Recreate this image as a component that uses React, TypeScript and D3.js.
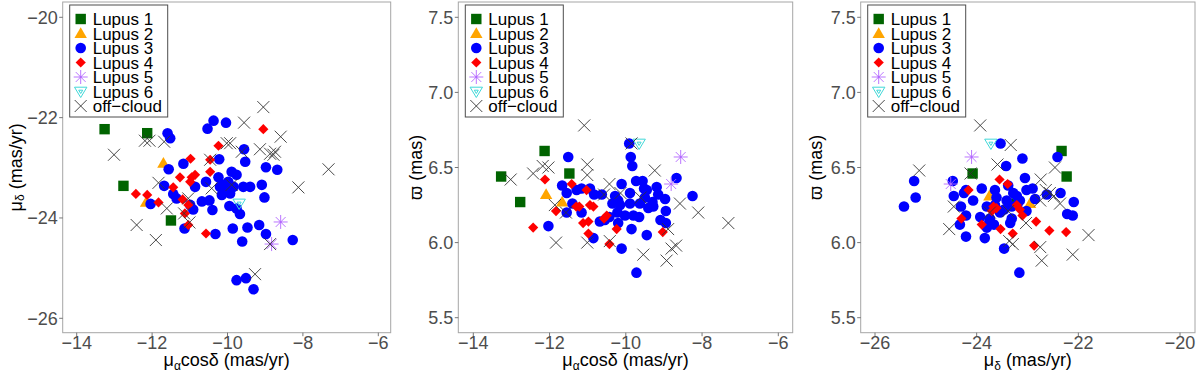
import React from 'react';
import * as d3 from 'd3';

type Pt = [number, number];

const groupNames = ['Lupus 1', 'Lupus 2', 'Lupus 3', 'Lupus 4', 'Lupus 5', 'Lupus 6', 'off\u2212cloud'];
const groupKinds = ['square', 'triangle', 'circle', 'diamond', 'asterisk', 'invtri', 'cross'];
const groupColors = ['#006400', '#FFA500', '#0000FF', '#FF0000', '#B266FF', '#40D8D8', '#333333'];

// Panel 1: pmRA cos(dec) vs pmDec
const p1Lupus1: Pt[] = [[-13.26, -22.23], [-12.13, -22.31], [-12.76, -23.36], [-11.5, -24.05]];
const p1Lupus2: Pt[] = [[-11.7, -22.91], [-12.16, -23.69]];
const p1Lupus3: Pt[] = [
  [-10.37, -22.06], [-10.04, -22.1], [-10.53, -22.22], [-11.59, -22.31], [-11.52, -22.41], [-9.56, -22.63],
  [-10.22, -22.83], [-9.53, -22.88], [-11.17, -22.92], [-8.98, -22.99], [-8.68, -23.04], [-11.56, -23.03],
  [-9.89, -23.08], [-9.76, -23.14], [-10.24, -23.19], [-9.98, -23.28], [-10.2, -23.38], [-11.68, -23.36],
  [-10.86, -23.38], [-10.57, -23.28], [-10.11, -23.34], [-10.07, -23.44], [-10.15, -23.54], [-9.58, -23.38],
  [-9.4, -23.38], [-9.09, -23.34], [-11.44, -23.52], [-11.35, -23.61], [-12.04, -23.72], [-10.99, -23.74],
  [-10.91, -23.83], [-10.68, -23.67], [-10.4, -23.84], [-9.93, -23.51], [-9.95, -23.76], [-9.76, -23.81],
  [-9.67, -23.92], [-9.02, -23.59], [-11.14, -24.21], [-10.32, -24.32], [-9.86, -24.21], [-9.47, -24.19],
  [-9.16, -24.14], [-8.98, -24.32], [-9.61, -24.47], [-8.27, -24.44], [-9.76, -25.24], [-9.51, -25.2],
  [-9.31, -25.42], [-9.84, -23.38], [-10.48, -23.65],
];
const p1Lupus4: Pt[] = [
  [-9.05, -22.23], [-10.24, -22.56], [-10.98, -22.82], [-10.46, -22.84], [-10.46, -23.08], [-10.86, -23.14],
  [-10.95, -23.19], [-11.26, -23.19], [-10.99, -23.28], [-11.44, -23.39], [-12.43, -23.52], [-12.13, -23.54],
  [-11.83, -23.69], [-11.19, -23.63], [-11.04, -23.74], [-11.13, -23.91], [-11.04, -24.14], [-10.57, -24.31],
];
const p1Lupus5: Pt[] = [[-8.59, -24.08], [-8.83, -24.52]];
const p1Lupus6: Pt[] = [[-9.69, -23.71]];
const p1Off: Pt[] = [
  [-9.05, -21.79], [-9.56, -22.1], [-8.59, -22.38], [-12.19, -22.46], [-12.07, -22.46], [-11.68, -22.48],
  [-10.02, -22.51], [-9.93, -22.51], [-13.01, -22.74], [-9.14, -22.63], [-8.87, -22.72], [-8.78, -22.74],
  [-8.74, -22.68], [-9.62, -22.68], [-10.46, -22.84], [-7.32, -23.03], [-11.83, -23.3], [-8.12, -23.39],
  [-9.89, -23.34], [-10.42, -23.41], [-11.04, -23.61], [-11.61, -23.81], [-12.41, -24.14], [-11.9, -24.44],
  [-11.01, -24.09], [-9.27, -25.12], [-8.87, -24.52], [-11.15, -23.91],
];

// Panel 2: pmRA cos(dec) vs parallax
const p2Lupus1: Pt[] = [[-12.13, 6.61], [-13.27, 6.44], [-11.48, 6.46], [-12.77, 6.27]];
const p2Lupus2: Pt[] = [[-12.09, 6.32], [-11.67, 6.27]];
const p2Lupus3: Pt[] = [
  [-11.51, 6.57], [-9.91, 6.66], [-9.87, 6.57], [-9.83, 6.51], [-11.67, 6.38], [-11.55, 6.33], [-11.4, 6.26],
  [-11.55, 6.2], [-11.16, 6.2], [-11.29, 6.35], [-10.94, 6.36], [-10.83, 6.32], [-10.63, 6.32], [-10.11, 6.39],
  [-10.28, 6.31], [-10.2, 6.28], [-10.15, 6.25], [-10.35, 6.26], [-9.89, 6.33], [-9.73, 6.41], [-9.56, 6.41],
  [-9.52, 6.36], [-9.5, 6.3], [-9.3, 6.27], [-9.28, 6.24], [-9.19, 6.37], [-9.15, 6.32], [-8.97, 6.29],
  [-8.67, 6.43], [-8.25, 6.31], [-8.95, 6.21], [-9.09, 6.15], [-8.95, 6.13], [-9.41, 6.23], [-9.8, 6.18],
  [-9.65, 6.17], [-10.02, 6.18], [-9.89, 6.26], [-10.22, 6.2], [-10.55, 6.15], [-10.68, 6.14], [-10.43, 6.17],
  [-10.2, 6.13], [-10.85, 6.03], [-10.11, 5.96], [-9.85, 6.09], [-9.45, 6.05], [-9.72, 5.8], [-12.03, 6.11],
  [-11.16, 6.36], [-9.63, 6.26], [-9.45, 6.35],
];
const p2Lupus4: Pt[] = [
  [-12.12, 6.42], [-11.42, 6.39], [-11.03, 6.35], [-11.83, 6.21], [-12.43, 6.1], [-11.22, 6.24], [-10.94, 6.25],
  [-10.85, 6.24], [-10.5, 6.18], [-10.57, 6.16], [-11.12, 6.13], [-10.98, 6.14], [-10.98, 6.06], [-10.24, 6.09],
  [-10.43, 5.99], [-9.03, 6.07], [-11.3, 6.24],
];
const p2Lupus5: Pt[] = [[-8.56, 6.57], [-8.81, 6.39]];
const p2Lupus6: Pt[] = [[-9.65, 6.66]];
const p2Off: Pt[] = [
  [-11.09, 6.78], [-9.85, 6.66], [-12.18, 6.51], [-12.03, 6.5], [-12.43, 6.46], [-13.02, 6.42], [-11.01, 6.52],
  [-11.01, 6.45], [-9.24, 6.48], [-10.43, 6.39], [-10.57, 6.32], [-11.86, 6.25], [-11.57, 6.2], [-8.58, 6.26],
  [-8.1, 6.2], [-7.31, 6.13], [-11.83, 6.0], [-11.01, 6.0], [-10.42, 6.01], [-9.54, 5.92], [-8.89, 6.09],
  [-8.68, 5.98], [-8.8, 5.96], [-8.93, 5.88], [-9.61, 6.3], [-10.14, 6.33],
];

// Panel 3: pmDec vs parallax
const p3Lupus1: Pt[] = [[-22.33, 6.61], [-22.23, 6.44], [-24.08, 6.46], [-23.26, 6.26]];
const p3Lupus2: Pt[] = [[-23.75, 6.31], [-22.95, 6.26]];
const p3Lupus3: Pt[] = [
  [-23.53, 6.66], [-23.1, 6.56], [-23.42, 6.51], [-23.05, 6.43], [-22.9, 6.36], [-22.62, 6.32], [-22.35, 6.33],
  [-22.09, 6.27], [-25.23, 6.41], [-25.2, 6.3], [-25.43, 6.24], [-24.47, 6.41], [-24.21, 6.35], [-24.25, 6.33],
  [-24.45, 6.31], [-24.31, 6.24], [-24.21, 6.18], [-24.33, 6.12], [-24.21, 6.04], [-23.84, 6.03], [-23.9, 6.36],
  [-23.64, 6.35], [-23.61, 6.3], [-23.38, 6.38], [-23.28, 6.33], [-23.21, 6.31], [-23.41, 6.28], [-23.31, 6.24],
  [-23.2, 6.25], [-23.02, 6.21], [-22.85, 6.29], [-23.8, 6.24], [-23.93, 6.17], [-23.74, 6.16], [-23.66, 6.12],
  [-23.8, 6.1], [-23.34, 6.13], [-23.31, 6.16], [-23.46, 5.96], [-23.16, 5.8], [-22.22, 6.19], [-22.11, 6.18],
  [-23.02, 6.35], [-23.64, 6.25], [-23.75, 6.14], [-22.41, 6.57], [-23.54, 6.2], [-23.46, 6.22], [-23.15, 6.28],
  [-24.07, 6.28],
];
const p3Lupus4: Pt[] = [
  [-23.55, 6.42], [-23.39, 6.39], [-24.16, 6.35], [-23.67, 6.24], [-23.7, 6.21], [-23.21, 6.25], [-23.15, 6.22],
  [-23.1, 6.18], [-24.3, 6.16], [-23.9, 6.12], [-23.53, 6.09], [-23.29, 6.06], [-22.83, 6.14], [-22.57, 6.08],
  [-22.24, 6.07], [-22.87, 5.98], [-23.61, 6.23],
];
const p3Lupus5: Pt[] = [[-24.1, 6.57], [-24.51, 6.39]];
const p3Lupus6: Pt[] = [[-23.72, 6.66]];
const p3Off: Pt[] = [
  [-23.93, 6.78], [-23.33, 6.65], [-23.59, 6.52], [-25.13, 6.48], [-24.12, 6.46], [-22.46, 6.5], [-22.74, 6.42],
  [-22.64, 6.35], [-22.56, 6.33], [-22.48, 6.31], [-22.36, 6.26], [-24.54, 6.09], [-24.45, 6.24], [-23.38, 6.21],
  [-23.03, 6.13], [-23.36, 6.01], [-23.29, 5.99], [-22.75, 5.97], [-22.72, 5.88], [-22.11, 5.92], [-21.8, 6.05],
  [-22.75, 6.28], [-23.74, 6.2],
];

const pmraTicks = [-14, -12, -10, -8, -6];
const pmdecTicks = [-26, -24, -22, -20];
const plxTicks = [5.5, 6.0, 6.5, 7.0, 7.5];

const FONT = "'Liberation Sans', Arial, Helvetica, sans-serif";
const minus = (s: string) => s.replace('-', '\u2212');

function Marker({ kind, x, y, color }: { kind: string; x: number; y: number; color: string }) {
  switch (kind) {
    case 'square':
      return <rect x={x - 5.2} y={y - 5.2} width={10.4} height={10.4} fill={color} />;
    case 'triangle':
      return <path d={`M${x},${y - 6.2}L${x + 6.2},${y + 4.4}L${x - 6.2},${y + 4.4}Z`} fill={color} />;
    case 'circle':
      return <circle cx={x} cy={y} r={5.3} fill={color} />;
    case 'diamond':
      return <path d={`M${x},${y - 5.1}L${x + 5.1},${y}L${x},${y + 5.1}L${x - 5.1},${y}Z`} fill={color} />;
    case 'asterisk': {
      const r = 7;
      const d = r * Math.SQRT1_2;
      return (
        <g stroke={color} strokeWidth={0.9}>
          <line x1={x - r} y1={y} x2={x + r} y2={y} />
          <line x1={x} y1={y - r} x2={x} y2={y + r} />
          <line x1={x - d} y1={y - d} x2={x + d} y2={y + d} />
          <line x1={x - d} y1={y + d} x2={x + d} y2={y - d} />
          <circle cx={x} cy={y} r={1} fill={color} stroke="none" />
        </g>
      );
    }
    case 'invtri':
      return (
        <g fill="none" stroke={color} strokeWidth={1}>
          <path d={`M${x - 6.2},${y - 4.3}L${x + 6.2},${y - 4.3}L${x},${y + 6}Z`} />
          <path d={`M${x - 2},${y - 1.3}L${x + 2},${y - 1.3}L${x},${y + 2}Z`} />
        </g>
      );
    default: {
      const h = 6;
      return (
        <g stroke={color} strokeWidth={0.9}>
          <line x1={x - h} y1={y - h} x2={x + h} y2={y + h} />
          <line x1={x - h} y1={y + h} x2={x + h} y2={y - h} />
        </g>
      );
    }
  }
}

type PanelCfg = {
  left: number; right: number; top: number; bottom: number;
  xDom: [number, number]; xRange: [number, number];
  yDom: [number, number]; yRange: [number, number];
  xTicks: number[]; yTicks: number[]; yFmt: (v: number) => string;
  xTitle: React.ReactNode; yTitle: React.ReactNode; yTitleX: number;
  layers: Pt[][];
};

function Panel({ cfg, id }: { cfg: PanelCfg; id: string }) {
  const xs = d3.scaleLinear().domain(cfg.xDom).range(cfg.xRange);
  const ys = d3.scaleLinear().domain(cfg.yDom).range(cfg.yRange);
  const { left, right, top, bottom } = cfg;
  const lx = left + 7;
  const ly = top + 3;
  return (
    <g>
      <defs>
        <clipPath id={id}>
          <rect x={left} y={top} width={right - left} height={bottom - top} />
        </clipPath>
      </defs>
      <rect x={left} y={top} width={right - left} height={bottom - top} fill="#fff" />
      <g clipPath={`url(#${id})`}>
        {cfg.layers.map((pts, gi) =>
          pts.map((p, i) => (
            <Marker key={`${gi}-${i}`} kind={groupKinds[gi]} x={xs(p[0])} y={ys(p[1])} color={groupColors[gi]} />
          ))
        )}
      </g>
      <rect x={left} y={top} width={right - left} height={bottom - top} fill="none" stroke="#a6a6a6" strokeWidth={1} />
      {cfg.xTicks.map((t) => (
        <g key={`x${t}`}>
          <line x1={xs(t)} x2={xs(t)} y1={bottom} y2={bottom + 3.5} stroke="#555" strokeWidth={0.8} />
          <text x={xs(t)} y={bottom + 16.5} textAnchor="middle" fontSize={18} fill="#4d4d4d" fontFamily={FONT}>
            {minus(String(t))}
          </text>
        </g>
      ))}
      {cfg.yTicks.map((t) => (
        <g key={`y${t}`}>
          <line x1={left - 3.5} x2={left} y1={ys(t)} y2={ys(t)} stroke="#555" strokeWidth={0.8} />
          <text x={left - 5} y={ys(t) + 6.4} textAnchor="end" fontSize={18} fill="#4d4d4d" fontFamily={FONT}>
            {cfg.yFmt(t)}
          </text>
        </g>
      ))}
      <text x={(left + right) / 2} y={bottom + 33.5} textAnchor="middle" fontSize={18} fill="#000" fontFamily={FONT}>
        {cfg.xTitle}
      </text>
      <text
        transform={`translate(${cfg.yTitleX},${(top + bottom) / 2}) rotate(-90)`}
        textAnchor="middle"
        dominantBaseline="central"
        fontSize={18}
        fill="#000"
        fontFamily={FONT}
      >
        {cfg.yTitle}
      </text>
      <rect x={lx} y={ly} width={98} height={112} fill="#fff" stroke="#4d4d4d" strokeWidth={1} />
      {groupNames.map((name, i) => {
        const cy = ly + 14 + i * 14.5;
        return (
          <g key={name}>
            <Marker kind={groupKinds[i]} x={lx + 11} y={cy} color={groupColors[i]} />
            <text x={lx + 23} y={cy + 6} fontSize={17} fill="#000" fontFamily={FONT}>
              {name}
            </text>
          </g>
        );
      })}
    </g>
  );
}

const pmraTitle = (
  <>
    <tspan>μ</tspan>
    <tspan fontSize={12} dy={4}>α</tspan>
    <tspan dy={-4}>cosδ (mas/yr)</tspan>
  </>
);
const pmdecTitle = (
  <>
    <tspan>μ</tspan>
    <tspan fontSize={12} dy={4}>δ</tspan>
    <tspan dy={-4}> (mas/yr)</tspan>
  </>
);
const plxTitle = <tspan>ϖ (mas)</tspan>;

const panels: PanelCfg[] = [
  {
    left: 62.7, right: 390.7, top: 2, bottom: 332.7,
    xDom: [-14, -6], xRange: [76.7, 378.3], yDom: [-20, -26], yRange: [17.3, 318.3],
    xTicks: pmraTicks, yTicks: pmdecTicks, yFmt: (v) => minus(String(v)),
    xTitle: pmraTitle, yTitle: pmdecTitle, yTitleX: 16,
    layers: [p1Lupus1, p1Lupus2, p1Lupus3, p1Lupus4, p1Lupus5, p1Lupus6, p1Off],
  },
  {
    left: 458.3, right: 792.7, top: 2, bottom: 332.7,
    xDom: [-14, -6], xRange: [473.3, 778.3], yDom: [7.5, 5.5], yRange: [17.3, 317.7],
    xTicks: pmraTicks, yTicks: plxTicks, yFmt: (v) => v.toFixed(1),
    xTitle: pmraTitle, yTitle: plxTitle, yTitleX: 416,
    layers: [p2Lupus1, p2Lupus2, p2Lupus3, p2Lupus4, p2Lupus5, p2Lupus6, p2Off],
  },
  {
    left: 860.7, right: 1195, top: 2, bottom: 332.7,
    xDom: [-26, -20], xRange: [875, 1180], yDom: [7.5, 5.5], yRange: [17.3, 317.7],
    xTicks: pmdecTicks, yTicks: plxTicks, yFmt: (v) => v.toFixed(1),
    xTitle: pmdecTitle, yTitle: plxTitle, yTitleX: 816,
    layers: [p3Lupus1, p3Lupus2, p3Lupus3, p3Lupus4, p3Lupus5, p3Lupus6, p3Off],
  },
];

export default function App() {
  return (
    <svg
      width={1200}
      height={377}
      style={{ position: 'absolute', left: 0, top: 0, background: '#fff' }}
      xmlns="http://www.w3.org/2000/svg"
    >
      <rect width={1200} height={377} fill="#fff" />
      {panels.map((cfg, i) => (
        <Panel key={i} cfg={cfg} id={`clip${i}`} />
      ))}
    </svg>
  );
}
